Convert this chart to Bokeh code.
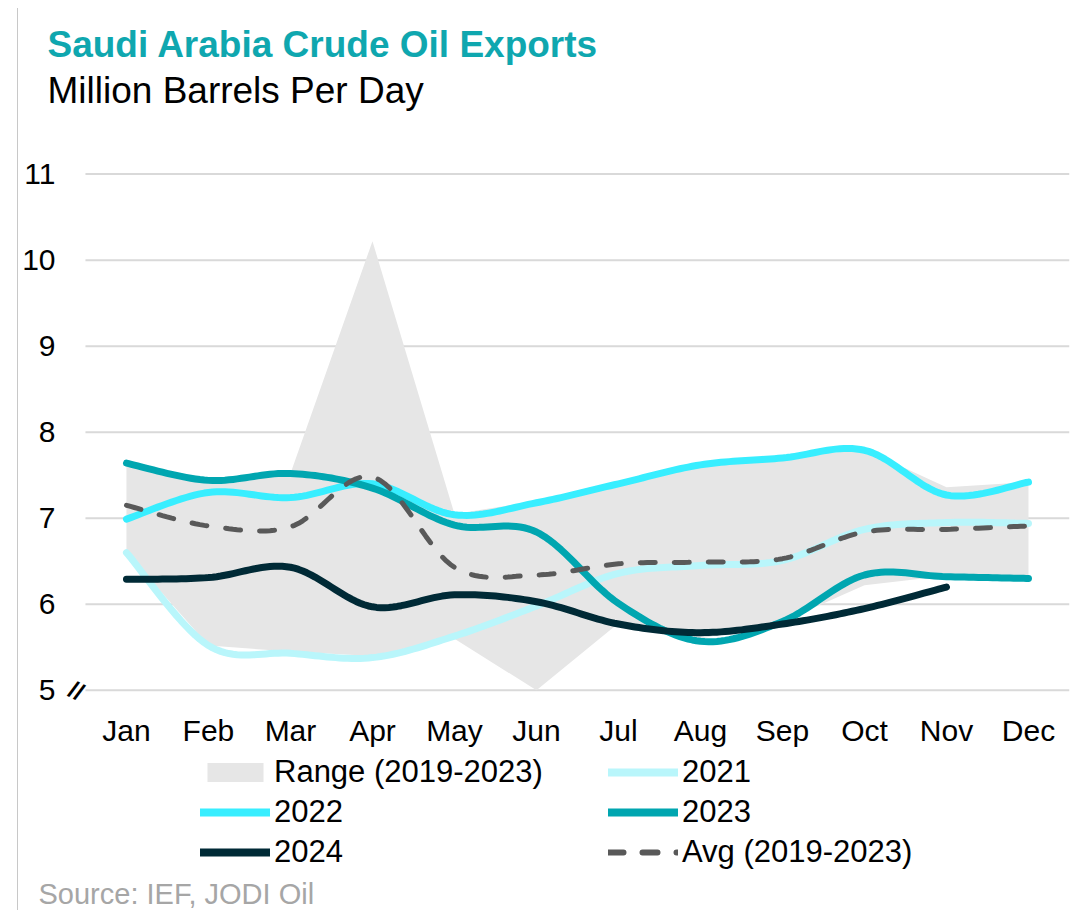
from bokeh.plotting import figure
from bokeh.layouts import column
from bokeh.models import Range1d, FixedTicker, Legend, LegendItem, Label
from bokeh.embed import file_html
from bokeh.resources import INLINE

months = ["Jan", "Feb", "Mar", "Apr", "May", "Jun", "Jul", "Aug", "Sep", "Oct", "Nov", "Dec"]
x_pos = list(range(1, 13))

range_low = [6.60, 5.52, 5.45, 5.40, 5.60, 5.00, 5.78, 5.60, 5.80, 6.22, 6.33, 6.30]
range_high = [7.65, 7.45, 7.52, 10.22, 7.05, 7.20, 7.40, 7.62, 7.70, 7.80, 7.36, 7.42]
y2021 = [6.60, 5.52, 5.43, 5.38, 5.63, 5.98, 6.36, 6.45, 6.51, 6.87, 6.95, 6.94]
y2022 = [6.99, 7.30, 7.24, 7.40, 7.04, 7.18, 7.40, 7.62, 7.70, 7.79, 7.27, 7.42]
y2023 = [7.64, 7.44, 7.52, 7.35, 6.92, 6.84, 6.01, 5.57, 5.80, 6.34, 6.32, 6.30]
y2024 = [6.29, 6.31, 6.43, 5.97, 6.11, 6.03, 5.77, 5.67, 5.77, 5.95, 6.20]
avg = [7.15, 6.91, 6.90, 7.48, 6.43, 6.34, 6.47, 6.49, 6.53, 6.84, 6.87, 6.91]
y_ticks = [5, 6, 7, 8, 9, 10, 11]

FONT = "Liberation Sans"
COLORS = {"range": "#E6E6E6", "2021": "#B9F6FB", "2022": "#38EEFF",
          "2023": "#00A6B0", "2024": "#002A36", "avg": "#595959"}


def smooth(xs, ys, n=20):
    """Catmull-Rom style smoothing (as in spreadsheet 'smoothed line')."""
    pts = list(zip(xs, ys))
    ox, oy = [], []
    for i in range(len(pts) - 1):
        p0 = pts[i - 1] if i > 0 else pts[i]
        p1 = pts[i]
        p2 = pts[i + 1]
        p3 = pts[i + 2] if i + 2 < len(pts) else pts[i + 1]
        c1 = (p1[0] + (p2[0] - p0[0]) / 6, p1[1] + (p2[1] - p0[1]) / 6)
        c2 = (p2[0] - (p3[0] - p1[0]) / 6, p2[1] - (p3[1] - p1[1]) / 6)
        for k in range(n):
            t = k / n
            a = (1 - t) ** 3
            b = 3 * (1 - t) ** 2 * t
            c = 3 * (1 - t) * t ** 2
            d = t ** 3
            ox.append(a * p1[0] + b * c1[0] + c * c2[0] + d * p2[0])
            oy.append(a * p1[1] + b * c1[1] + c * c2[1] + d * p2[1])
    ox.append(pts[-1][0])
    oy.append(pts[-1][1])
    return ox, oy


def strip(height):
    f = figure(width=1055, height=height, x_range=Range1d(0, 1), y_range=Range1d(0, 1),
               output_backend="svg", toolbar_location=None, title=None,
               min_border_left=0, min_border_right=0, min_border_top=0, min_border_bottom=0)
    f.frame_align = False
    f.axis.visible = False
    f.grid.grid_line_color = None
    f.outline_line_color = None
    f.border_fill_color = "white"
    return f


# ---------------- title strip ----------------
t = strip(122)
t.add_layout(Label(x=29, y=86, x_units="screen", y_units="screen",
                   text="Saudi Arabia Crude Oil Exports", text_font=FONT, text_font_size="37px",
                   text_font_style="bold", text_color="#0FA7AF", text_baseline="middle"))
t.add_layout(Label(x=29, y=40, x_units="screen", y_units="screen",
                   text="Million Barrels Per Day", text_font=FONT, text_font_size="37px",
                   text_color="#000000", text_baseline="middle"))

# ---------------- main chart ----------------
p = figure(width=1055, height=619, x_range=Range1d(0.22, 12.5), y_range=Range1d(4.8, 11.1),
           output_backend="svg", toolbar_location=None, title=None,
           min_border_left=44, min_border_right=4, min_border_top=35, min_border_bottom=42)
p.outline_line_color = None
p.background_fill_color = "white"
p.border_fill_color = "white"
p.frame_align = False

p.xaxis.ticker = FixedTicker(ticks=x_pos)
p.xaxis.major_label_overrides = {i: m for i, m in zip(x_pos, months)}
p.yaxis.ticker = FixedTicker(ticks=y_ticks)
for ax in (p.xaxis[0], p.yaxis[0]):
    ax.axis_line_color = None
    ax.major_tick_line_color = None
    ax.minor_tick_line_color = None
    ax.major_tick_out = 0
    ax.major_tick_in = 0
    ax.major_label_text_font = FONT
    ax.major_label_text_font_size = "30px"
    ax.major_label_text_color = "#000000"
p.xaxis.major_label_standoff = 6
p.yaxis.major_label_standoff = 7
p.xgrid.grid_line_color = None
p.ygrid.grid_line_color = None

n = len(months)
p.segment(x0=[0.5] * len(y_ticks), x1=[n + 0.5] * len(y_ticks), y0=y_ticks, y1=y_ticks,
          line_color="#D9D9D9", line_width=2)

p.varea(x=x_pos, y1=range_low, y2=range_high, fill_color=COLORS["range"])
for name, ys in (("2021", y2021), ("2022", y2022), ("2023", y2023), ("2024", y2024)):
    sx, sy = smooth(x_pos[:len(ys)], ys)
    p.line(sx, sy, line_color=COLORS[name], line_width=7, line_cap="round", line_join="round")
ax_, ay_ = smooth(x_pos, avg)
p.line(ax_, ay_, line_color=COLORS["avg"], line_width=5, line_dash="15 19", line_cap="round")

# axis break mark
p.add_layout(Label(x=14, y=17, x_units="screen", y_units="screen",
                   text="//", text_font=FONT, text_font_size="24px", text_font_style="bold",
                   text_color="#000000", text_baseline="middle", text_align="center", angle=-0.45))

# ---------------- legend + source strip ----------------
q = strip(161)
# legend keys (single point outside the visible range, so nothing is drawn in the strip)
k_range = q.varea(x=[-1], y1=[-1], y2=[-1], fill_color=COLORS["range"])
k = {}
for name in ("2021", "2022", "2023", "2024"):
    k[name] = q.line(x=[-1], y=[-1], line_color=COLORS[name], line_width=8, line_cap="round")
k_avg = q.line(x=[-1], y=[-1], line_color=COLORS["avg"], line_width=6, line_dash="15 19",
               line_cap="round")

legend = Legend(
    items=[
        LegendItem(label="Range (2019-2023)", renderers=[k_range]),
        LegendItem(label="2021", renderers=[k["2021"]]),
        LegendItem(label="2022", renderers=[k["2022"]]),
        LegendItem(label="2023", renderers=[k["2023"]]),
        LegendItem(label="2024", renderers=[k["2024"]]),
        LegendItem(label="Avg (2019-2023)", renderers=[k_avg]),
    ],
    location=(182, 40), orientation="horizontal", ncols=2,
    glyph_width=70, glyph_height=24, label_height=32, label_width=330,
    label_standoff=4, spacing=4, padding=0, margin=0,
    border_line_color=None, background_fill_alpha=0,
    label_text_font=FONT, label_text_font_size="31px", label_text_color="#000000",
)
q.add_layout(legend)
q.add_layout(Label(x=20, y=17, x_units="screen", y_units="screen",
                   text="Source: IEF, JODI Oil", text_font=FONT, text_font_size="29px",
                   text_color="#A6A6A6", text_baseline="middle"))

layout = column(t, p, q)
layout.styles = {"margin-left": "17px", "margin-top": "8px", "border-left": "1px solid #C8C8C8"}

open("out.html", "w").write(file_html(layout, INLINE))
